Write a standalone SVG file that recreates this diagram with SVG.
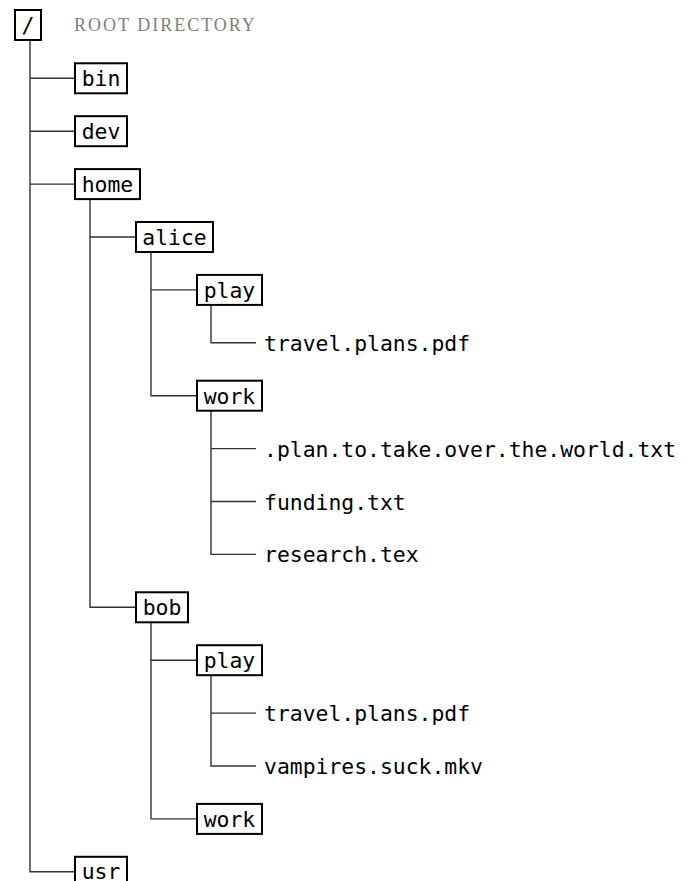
<svg xmlns="http://www.w3.org/2000/svg" width="688" height="881" viewBox="0 0 688 881">
<style>
.box{fill:#fff;stroke:#000;stroke-width:2}
.lbl{font-family:"DejaVu Sans Mono",monospace;font-size:21.4px;fill:#000;text-anchor:middle}
.file{font-family:"DejaVu Sans Mono",monospace;font-size:21.4px;fill:#000}
.conn{fill:none;stroke:#333;stroke-width:1.4}
.title{font-family:"Liberation Serif",serif;font-size:18px;fill:#808080;letter-spacing:2px}
</style>
<rect width="688" height="881" fill="#fff"/>
<text class="title" x="74" y="31">ROOT DIRECTORY</text>
<g id="connectors">
<path class="conn" d="M30 40.4V871.8H75"/>
<path class="conn" d="M30 78.3H75M30 131.2H75M30 184.1H75"/>
<path class="conn" d="M90 199.1V607.3H136M90 237H136"/>
<path class="conn" d="M151 252V395.7H197M151 289.9H197"/>
<path class="conn" d="M151 622.3V818.9H197M151 660.2H197"/>
<path class="conn" d="M211 304.9V342.8H256"/>
<path class="conn" d="M211 410.7V554.4H256M211 448.6H256M211 501.5H256"/>
<path class="conn" d="M211 675.2V766H256M211 713.1H256"/>
</g>
<g id="root"><rect class="box" x="15" y="10" width="26" height="30"/><text class="lbl" x="28" y="33">/</text></g>
<g id="bin"><rect class="box" x="75" y="63.3" width="52" height="30"/><text class="lbl" x="101" y="86.3">bin</text></g>
<g id="dev"><rect class="box" x="75" y="116.2" width="52" height="30"/><text class="lbl" x="101" y="139.2">dev</text></g>
<g id="home"><rect class="box" x="75" y="169.1" width="65" height="30"/><text class="lbl" x="107.5" y="192.1">home</text></g>
<g id="alice"><rect class="box" x="136" y="222" width="77" height="30"/><text class="lbl" x="174.5" y="245">alice</text></g>
<g id="alice-play"><rect class="box" x="197" y="274.9" width="65" height="30"/><text class="lbl" x="229.5" y="297.9">play</text></g>
<g id="alice-play-travel"><text class="file" x="264" y="350.8">travel.plans.pdf</text></g>
<g id="alice-work"><rect class="box" x="197" y="380.7" width="65" height="30"/><text class="lbl" x="229.5" y="403.7">work</text></g>
<g id="alice-work-plan"><text class="file" x="264" y="456.6">.plan.to.take.over.the.world.txt</text></g>
<g id="alice-work-funding"><text class="file" x="264" y="509.5">funding.txt</text></g>
<g id="alice-work-research"><text class="file" x="264" y="562.4">research.tex</text></g>
<g id="bob"><rect class="box" x="136" y="592.3" width="52" height="30"/><text class="lbl" x="162" y="615.3">bob</text></g>
<g id="bob-play"><rect class="box" x="197" y="645.2" width="65" height="30"/><text class="lbl" x="229.5" y="668.2">play</text></g>
<g id="bob-play-travel"><text class="file" x="264" y="721.1">travel.plans.pdf</text></g>
<g id="bob-play-vampires"><text class="file" x="264" y="774">vampires.suck.mkv</text></g>
<g id="bob-work"><rect class="box" x="197" y="803.9" width="65" height="30"/><text class="lbl" x="229.5" y="826.9">work</text></g>
<g id="usr"><rect class="box" x="75" y="856.8" width="52" height="30"/><text class="lbl" x="101" y="879.3">usr</text></g>
</svg>
